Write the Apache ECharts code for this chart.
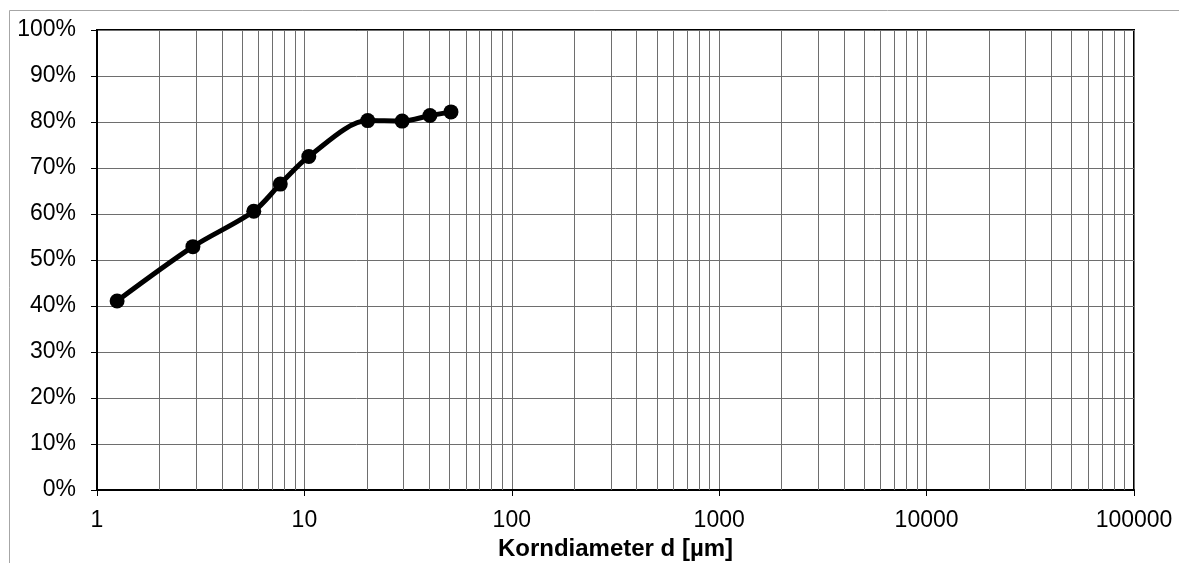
<!DOCTYPE html>
<html>
<head>
<meta charset="utf-8">
<script src="https://cdn.jsdelivr.net/npm/echarts@6/dist/echarts.min.js"></script>
<style>
  html, body { margin: 0; padding: 0; background: #fff; }
  #chart { width: 1179px; height: 563px; }
</style>
</head>
<body>
<div id="chart"></div>
<script>
// Grain size distribution: cumulative passing (%) over grain diameter (µm)
const diameters = [1.25, 2.9, 5.7, 7.65, 10.5, 20.2, 29.6, 40.3, 50.9];
const passing   = [41.1, 52.9, 60.6, 66.5, 72.5, 80.3, 80.2, 81.4, 82.2];

const xMin = 1, xMax = 100000;
const axisTitle = 'Korndiameter d [µm]';

// minor vertical grid lines at 2..9 of every decade
const minorGrid = [];
for (let d = xMin; d < xMax; d *= 10) {
  for (let k = 2; k <= 9; k++) minorGrid.push({ xAxis: d * k });
}

const chart = echarts.init(document.getElementById('chart'));
chart.setOption({
  animation: false,
  backgroundColor: '#fff',
  textStyle: { fontFamily: 'Liberation Sans, Arial, sans-serif' },
  graphic: [{
    type: 'rect',
    shape: { x: 9.5, y: 10.5, width: 1300, height: 700 },
    style: { fill: 'none', stroke: '#a6a6a6', lineWidth: 1 },
    silent: true
  }],
  grid: {
    left: 97, right: 45, top: 30, bottom: 73,
    outerBoundsMode: 'none', containLabel: false,
    show: true, borderColor: '#000', borderWidth: 2
  },
  xAxis: {
    type: 'log', logBase: 10, min: xMin, max: xMax,
    name: axisTitle, nameLocation: 'middle', nameGap: 41,
    nameTextStyle: { color: '#000', fontSize: 24, fontWeight: 'bold' },
    axisLine: { lineStyle: { color: '#000', width: 2 } },
    axisTick: { show: true, length: 6, inside: false, lineStyle: { color: '#000', width: 1 } },
    axisLabel: { color: '#000', fontSize: 23, margin: 19, formatter: v => String(v) },
    splitLine: { show: true, lineStyle: { color: '#6e6e6e', width: 1 } },
    minorTick: { show: false },
    minorSplitLine: { show: false }
  },
  yAxis: {
    type: 'value', min: 0, max: 100, interval: 10,
    axisLine: { show: true, lineStyle: { color: '#000', width: 2 } },
    axisTick: { show: true, length: 6, lineStyle: { color: '#000', width: 1 } },
    axisLabel: { color: '#000', fontSize: 23, margin: 21, formatter: '{value}%' },
    splitLine: { show: true, lineStyle: { color: '#6e6e6e', width: 1 } }
  },
  series: [{
    type: 'line',
    data: diameters.map((d, i) => [d, passing[i]]),
    smooth: 0.3,
    symbol: 'circle', symbolSize: 15,
    lineStyle: { color: '#000', width: 5 },
    itemStyle: { color: '#000' },
    z: 5,
    markLine: {
      silent: true, symbol: 'none', label: { show: false },
      lineStyle: { color: '#6e6e6e', width: 1, type: 'solid' },
      data: minorGrid,
      z: 1
    }
  }]
});
</script>
</body>
</html>
